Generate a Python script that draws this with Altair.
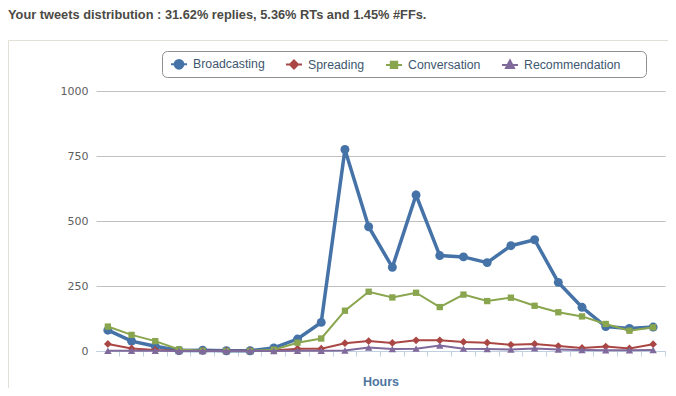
import altair as alt
import pandas as pd

title_text = "Your tweets distribution : 31.62% replies, 5.36% RTs and 1.45% #FFs."
series_names = ["Broadcasting", "Spreading", "Conversation", "Recommendation"]
series_colors = ["#4572A7", "#AA4643", "#89A54E", "#80699B"]
hours = list(range(24))
broadcasting = [80, 38, 18, 2, 3, 1, 1, 12, 46, 110, 775, 478, 322, 600, 367, 362, 340, 405, 428, 264, 168, 94, 87, 92]
spreading = [27, 10, 4, 1, 1, 1, 1, 2, 9, 9, 30, 38, 31, 41, 41, 35, 32, 24, 27, 19, 12, 17, 10, 26]
conversation = [94, 62, 38, 6, 1, 0, 0, 5, 32, 48, 155, 228, 206, 224, 169, 217, 192, 205, 174, 149, 133, 104, 78, 91]
recommendation = [1, 1, 1, 0, 0, 0, 0, 0, 1, 1, 2, 13, 8, 9, 21, 9, 8, 6, 10, 6, 4, 3, 3, 4]
y_ticks = [0, 250, 500, 750, 1000]

df = pd.DataFrame({
    "hour": hours,
    "Broadcasting": broadcasting,
    "Spreading": spreading,
    "Conversation": conversation,
    "Recommendation": recommendation,
})

W, H = 569, 260
FONT = "Liberation Sans"

x_scale = alt.Scale(type="band", paddingInner=0, paddingOuter=0)
y_scale = alt.Scale(domain=[0, 1000], nice=False)
x_axis = alt.Axis(title="Hours", labels=False, grid=False, domainColor="#C0D0E0",
                  tickColor="#C0D0E0", tickSize=5, bandPosition=1,
                  titleColor="#4D759E", titleFont=FONT, titleFontSize=12.5,
                  titleFontWeight="bold", titlePadding=19)
y_axis = alt.Axis(title=None, values=y_ticks, format="d", domain=False, ticks=False, grid=True,
                  gridColor="#C0C0C0", labelColor="#606060", labelFont="DejaVu Sans",
                  labelFontSize=11, labelPadding=8)

styles = {
    "Broadcasting": dict(shape="circle", size=80, lw=3.5),
    "Spreading": dict(shape="diamond", size=60, lw=2),
    "Conversation": dict(shape="square", size=40, lw=2),
    "Recommendation": dict(shape="triangle-up", size=55, lw=2),
}

base = alt.Chart(df)
layers = []

one = pd.DataFrame({"t": [title_text]})
frame = alt.Chart(one).mark_rect(fillOpacity=0, stroke="#E2E0D6", strokeWidth=1).encode(
    x=alt.value(-87.5), x2=alt.value(620), y=alt.value(-50.5), y2=alt.value(330))
layers.append(frame)

for name, color in zip(series_names, series_colors):
    st = styles[name]
    enc = dict(x=alt.X("hour:O", scale=x_scale, axis=x_axis),
               y=alt.Y(f"{name}:Q", scale=y_scale, axis=y_axis))
    layers.append(base.mark_line(color=color, strokeWidth=st["lw"]).encode(**enc))
    layers.append(base.mark_point(filled=True, color=color, shape=st["shape"],
                                  size=st["size"], opacity=1).encode(**enc))

legend_paths = [
    "M-1,0H1M-0.55,0A0.55,0.55 0 1,0 0.55,0A0.55,0.55 0 1,0 -0.55,0Z",
    "M-1,0H1M0,-0.5L0.5,0L0,0.5L-0.5,0Z",
    "M-1,0H1M-0.4,-0.4H0.4V0.4H-0.4Z",
    "M-1,0H1M0,-0.55L0.5,0.4H-0.5Z",
]
leg = alt.Legend(title=None, orient="none", legendX=74, legendY=-36, direction="horizontal",
                 padding=0, columnPadding=17, labelOffset=5, symbolSize=256,
                 symbolStrokeWidth=2, labelFont=FONT, labelFontSize=12.3, labelColor="#3E576F")
leg_df = pd.DataFrame({"series": series_names})
legend_layer = alt.Chart(leg_df).transform_filter("false").mark_point(
    filled=True, size=256, strokeWidth=2, opacity=1).encode(
    fill=alt.Fill("series:N", scale=alt.Scale(domain=series_names, range=series_colors), legend=leg),
    stroke=alt.Stroke("series:N", scale=alt.Scale(domain=series_names, range=series_colors), legend=leg),
    shape=alt.Shape("series:N", scale=alt.Scale(domain=series_names, range=legend_paths), legend=leg),
)
layers.append(legend_layer)

legend_box = alt.Chart(one).mark_rect(fillOpacity=0, stroke="#909090", strokeWidth=1, cornerRadius=5).encode(
    x=alt.value(66.5), x2=alt.value(550.5), y=alt.value(-39.5), y2=alt.value(-13.5))
layers.append(legend_box)

title = alt.Chart(one).mark_text(align="left", baseline="alphabetic", font=FONT, fontSize=12.8,
                                 fontWeight="bold", color="#4B4A45").encode(
    text="t:N", x=alt.value(-88), y=alt.value(-72))
layers.append(title)

chart = alt.layer(*layers).properties(
    width=W, height=H,
    autosize=alt.AutoSizeParams(type="none"),
    padding={"left": 88, "top": 83, "right": 3, "bottom": 37},
).configure_view(stroke=None)

chart.save("out.html", embed_options={"renderer": "svg", "actions": False})
